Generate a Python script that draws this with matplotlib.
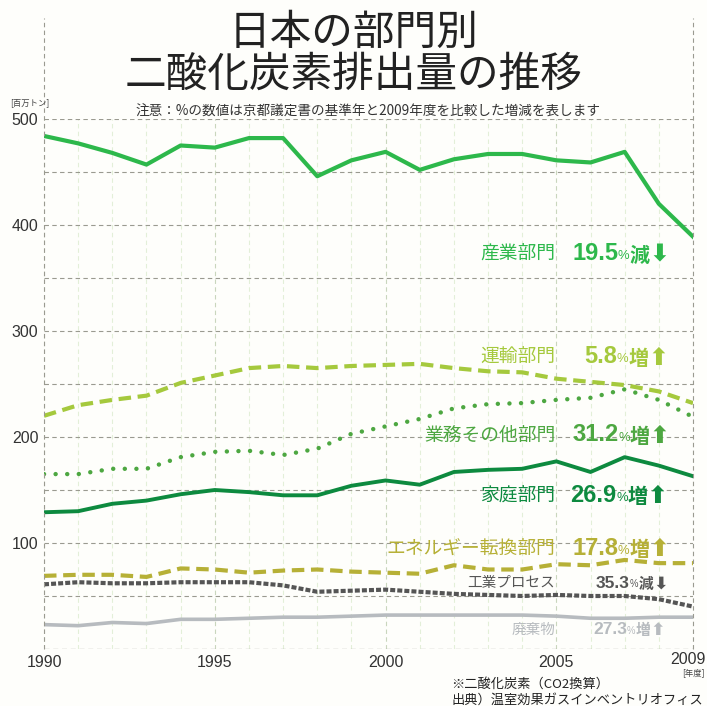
import numpy as np
import matplotlib
matplotlib.use("Agg")
import matplotlib.pyplot as plt

JP = ['Noto Sans CJK JP', 'DejaVu Sans']
NUM = ['Liberation Sans', 'DejaVu Sans']
plt.rcParams['font.family'] = JP

years = list(range(1990, 2010))

# 百万トン CO2
industry = [484, 477, 468, 457, 475, 473, 482, 482, 446, 461,
            469, 452, 462, 467, 467, 461, 459, 469, 420, 389]
transport = [220, 230, 235, 239, 251, 258, 265, 267, 265, 267,
             268, 269, 265, 262, 261, 255, 252, 249, 243, 232]
commercial = [165, 165, 170, 170, 181, 186, 187, 183, 189, 203,
              210, 217, 227, 231, 232, 235, 237, 245, 235, 219]
residential = [129, 130, 137, 140, 146, 150, 148, 145, 145, 154,
               159, 155, 167, 169, 170, 177, 167, 181, 173, 163]
energy = [69, 70, 70, 68, 76, 75, 72, 74, 75, 73,
          72, 71, 79, 75, 75, 80, 79, 84, 81, 81]
processes = [61, 63, 62, 62, 63, 63, 63, 60, 54, 55,
             56, 54, 52, 51, 50, 51, 50, 50, 47, 40]
waste = [23, 22, 25, 24, 28, 28, 29, 30, 30, 31,
         32, 32, 32, 32, 32, 31, 29, 29, 30, 30]

names = ['産業部門', '運輸部門', '業務その他部門', '家庭部門',
         'エネルギー転換部門', '工業プロセス', '廃棄物']
pcts = ['19.5', '5.8', '31.2', '26.9', '17.8', '35.3', '27.3']
signs = ['減', '増', '増', '増', '増', '減', '増']

colors = ['#2db84b', '#a5c93d', '#4da741', '#0d8a3f', '#b6b036', '#555555', '#b7bbbf']
series = [industry, transport, commercial, residential, energy, processes, waste]

fig = plt.figure(figsize=(7.07, 7.06), dpi=100, facecolor='#fefefb')
ax = fig.add_axes([44 / 707, 1 - 649 / 706, 649 / 707, 530 / 706])
ax.set_facecolor('#fefefb')
ax.set_xlim(1990, 2009)
ax.set_ylim(0, 500)

# grid
for yr in years:
    c = '#c9d6bd' if yr % 5 == 0 else '#e3efd8'
    ax.axvline(yr, color=c, lw=0.8, ls=(0, (4, 3)), zorder=0)
for v in range(50, 501, 50):
    ax.axhline(v, color='#9a9a90', lw=0.8, ls=(0, (4, 3)), zorder=1)
for s in ax.spines.values():
    s.set_visible(False)
ax.axhline(0, color='#9a9a90', lw=0.9, ls=(0, (4, 3)), zorder=1)
# vertical frame lines that run up to the title
for xf in (44, 693):
    fig.add_artist(plt.Line2D([xf / 707, xf / 707], [1 - 649 / 706, 1 - 18 / 706],
                              color='#9a9a90', lw=0.8, ls=(0, (4, 3))))

styles = [
    dict(ls='-', lw=3.0),
    dict(ls=(0, (3, 1.6)), lw=3.0),
    dict(ls=(0, (0.01, 2.6)), lw=3.2, dash_capstyle='round'),
    dict(ls='-', lw=2.8),
    dict(ls=(0, (3, 1.6)), lw=3.0),
    dict(ls=(0, (1.2, 0.5)), lw=3.0),
    dict(ls='-', lw=2.6),
]
for vals, c, st in zip(series, colors, styles):
    ax.plot(years, vals, color=c, zorder=3, solid_joinstyle='round', **st)

ax.set_yticks([100, 200, 300, 400, 500])
ax.set_yticklabels(['100', '200', '300', '400', '500'], family=NUM, fontsize=11.5, color='#333333')
ax.set_xticks([1990, 1995, 2000, 2005, 2009])
ax.set_xticklabels(['1990', '1995', '2000', '2005', ''], family=NUM, fontsize=11.5, color='#333333')
ax.tick_params(length=0, pad=4)
fig.text(706 / 707, 1 - 660 / 706, '2009', ha='right', va='center', family=NUM,
         fontsize=11.5, color='#333333')

# labels
label_y = [373, 276, 202, 145, 95, 62, 18]
pct_x = [572, 584, 572, 570, 572, 596, 593]
name_size = [13.5, 13.5, 13.5, 13.5, 13.5, 10.5, 10.5]
num_size = [17, 17, 17, 17, 17, 12.5, 12.5]
fig.canvas.draw()
for i in range(len(names)):
    c = colors[i]
    ax.text(2004.97, label_y[i], names[i], ha='right', va='center', color=c,
            fontsize=name_size[i], family=JP, zorder=5)
    x0 = 1990 + (pct_x[i] - 44) / (649 / 19)
    t = ax.text(x0, label_y[i], pcts[i], ha='left', va='center', color=c,
                fontsize=num_size[i], family=NUM, weight='bold', zorder=5)
    t = ax.annotate('%', xy=(1, 0.12), xycoords=t, va='bottom', ha='left', color=c,
                    fontsize=num_size[i] * 0.55, family=NUM, zorder=5)
    t = ax.annotate(signs[i], xy=(1, -0.28), xycoords=t, va='bottom', ha='left', color=c,
                    fontsize=num_size[i] * 0.85, family=JP, weight='bold', zorder=5)
    arrow = '⬇' if signs[i] == '減' else '⬆'
    ax.annotate(arrow, xy=(1, -0.05), xycoords=t, va='bottom', ha='left', color=c,
                fontsize=num_size[i] * 1.0, family=['DejaVu Sans'], weight='bold', zorder=5)

# titles and notes
fig.text(0.5, 1 - 33 / 706, '日本の部門別', ha='center', va='center', fontsize=30, family=JP, color='#222222')
fig.text(0.5, 1 - 75 / 706, '二酸化炭素排出量の推移', ha='center', va='center', fontsize=30, family=JP, color='#222222')
fig.text(368 / 707, 1 - 112 / 706, '注意：%の数値は京都議定書の基準年と2009年度を比較した増減を表します',
         ha='center', va='center', fontsize=9.8, family=JP, color='#333333')
fig.text(10 / 707, 1 - 103 / 706, '[百万トン]', ha='left', va='center', fontsize=6, family=JP, color='#444444')
fig.text(693 / 707, 1 - 673 / 706, '[年度]', ha='center', va='center', fontsize=6, family=JP, color='#444444')
fig.text(451 / 707, 1 - 684 / 706, '※二酸化炭素（CO2換算）', ha='left', va='center', fontsize=9.5, family=JP, color='#222222')
fig.text(451 / 707, 1 - 700 / 706, '出典）温室効果ガスインベントリオフィス', ha='left', va='center', fontsize=9.5, family=JP, color='#222222')

fig.savefig('out.png', dpi=100, facecolor=fig.get_facecolor())
